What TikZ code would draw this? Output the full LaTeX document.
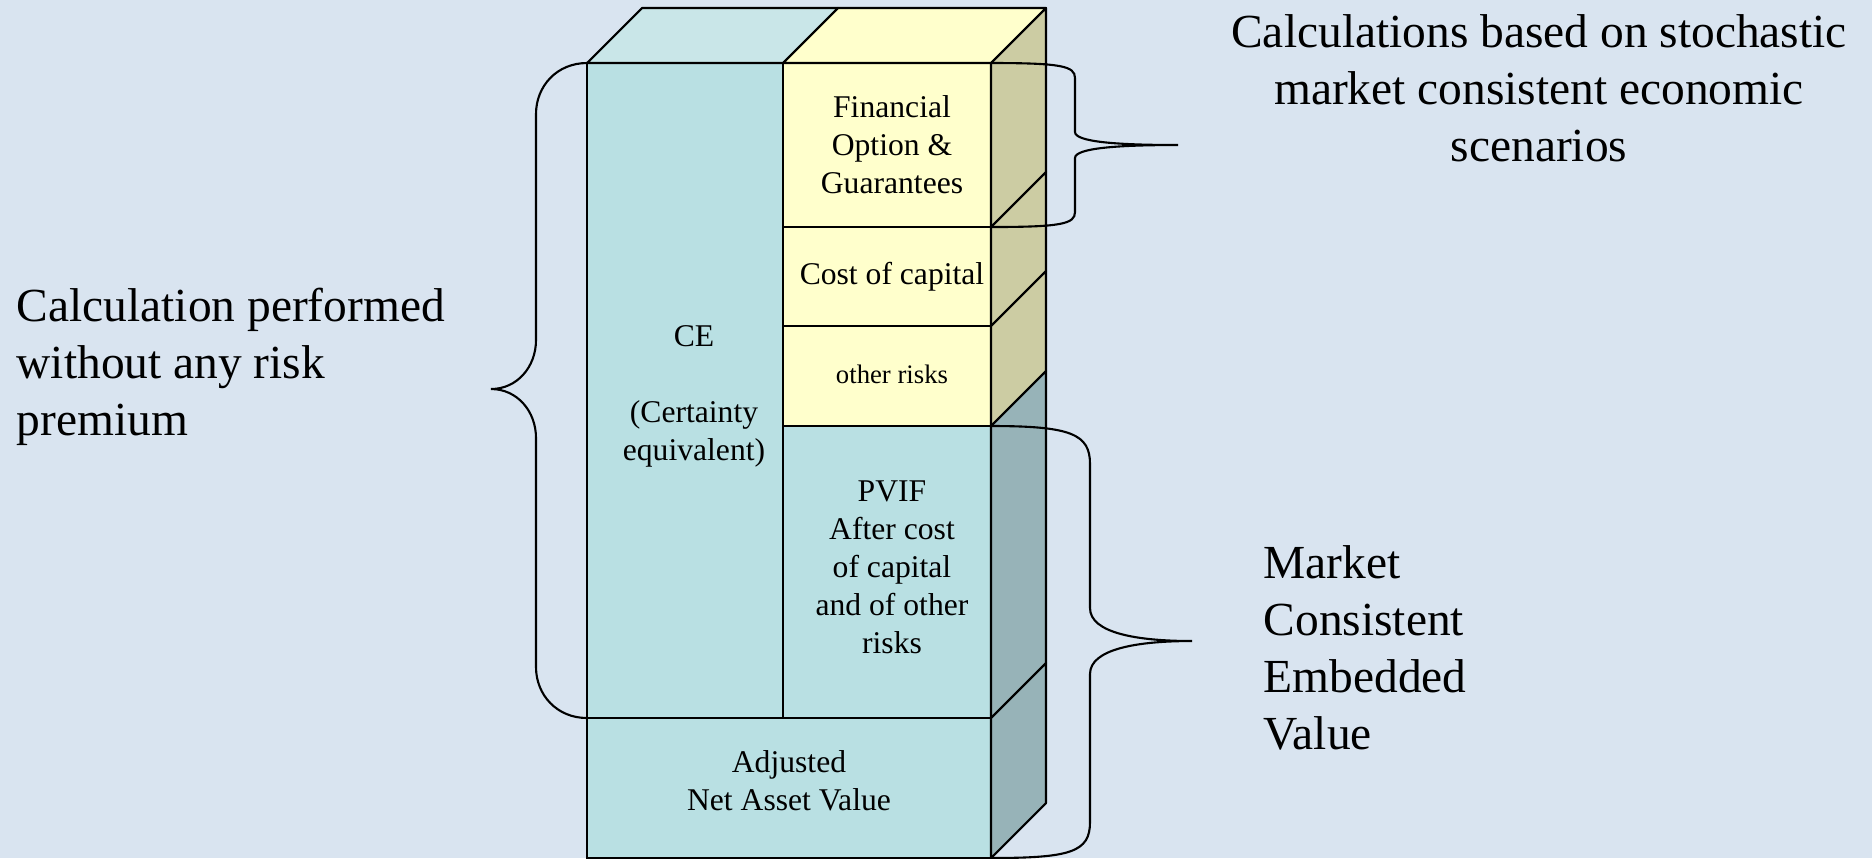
\documentclass[tikz,border=0pt]{standalone}
\usepackage{fontspec}
\setmainfont{Liberation Serif}
\usetikzlibrary{positioning}

\definecolor{bgblue}{RGB}{217,228,240}
\definecolor{ceteal}{RGB}{185,224,227}
\definecolor{topteal}{RGB}{201,230,232}
\definecolor{sideteal}{RGB}{151,179,184}
\definecolor{optyellow}{RGB}{255,255,204}
\definecolor{sideyellow}{RGB}{204,204,163}

\begin{document}
\begin{tikzpicture}[
    x=0.1mm, y=-0.1mm,
    % Front faces
    face/.style={rectangle, draw=black, line width=0.6pt, inner sep=0pt, outer sep=0pt},
    tealface/.style={face, fill=ceteal},
    yellowface/.style={face, fill=optyellow, minimum width=20.8mm},
    facetext/.style={inner sep=0pt, align=center, font=\fontsize{9}{10.8}\selectfont},
    % Top and side faces
    depthface/.style={draw=black, line width=0.6pt, line join=round},
    % Braces and labels
    brace/.style={draw=black, line width=0.6pt},
    note/.style={inner sep=0pt, font=\fontsize{13.5}{16.2}\selectfont}
]
\useasboundingbox (0,0) rectangle (1872,858);
\fill[bgblue] (0,0) rectangle (1872,858);

% Front faces
\node[tealface, minimum width=19.6mm, minimum height=65.5mm, anchor=north west] (ce) at (587,63) {};
\node[yellowface, minimum height=16.4mm, anchor=north west] (fog) at (ce.north east) {};
\node[yellowface, minimum height=9.9mm, below=0pt of fog] (coc) {};
\node[yellowface, minimum height=10mm, below=0pt of coc] (orisk) {};
\node[tealface, minimum width=20.8mm, minimum height=29.2mm, below=0pt of orisk] (pvif) {};
\node[tealface, minimum width=40.4mm, minimum height=14mm, anchor=north west] (anav) at (ce.south west) {};

% Top faces
\filldraw[depthface, fill=topteal] (ce.north west) -- ++(55,-55) -- ([shift={(55,-55)}]ce.north east) -- (ce.north east) -- cycle;
\filldraw[depthface, fill=optyellow] (fog.north west) -- ++(55,-55) -- ([shift={(55,-55)}]fog.north east) -- (fog.north east) -- cycle;

% Side faces
\foreach \blk/\col in {fog/sideyellow, coc/sideyellow, orisk/sideyellow, pvif/sideteal, anav/sideteal}
    \filldraw[depthface, fill=\col] (\blk.north east) -- ++(55,-55) -- ([shift={(55,-55)}]\blk.south east) -- (\blk.south east) -- cycle;

% Face texts
\node[facetext] (ceText) at ([shift={(9,6)}]ce.center) {CE\\[10.8pt](Certainty\\equivalent)};
\node[facetext] (fogText) at ([shift={(5,0)}]fog.center) {Financial\\Option \&\\Guarantees};
\node[facetext] (cocText) at ([shift={(5,0)}]coc.center) {Cost of capital};
\node[facetext, font=\fontsize{7.6}{9}\selectfont] (oriskText) at ([shift={(5,-2)}]orisk.center) {other risks};
\node[facetext] (pvifText) at ([shift={(5,-5)}]pvif.center) {PVIF\\After cost\\of capital\\and of other\\risks};
\node[facetext] (anavText) at ([shift={(0,-7)}]anav.center) {Adjusted\\Net Asset Value};

% Brace tips
\coordinate (noRiskTip) at (491,389);
\coordinate (stochTip) at (1178,145);
\coordinate (mcevTip) at (1192,641);

% Braces
\draw[brace] (ce.north west) .. controls +(-30,0) and +(0,-28) .. (536,114) -- (536,340)
    .. controls +(0,27) and +(26,0) .. (noRiskTip)
    .. controls +(26,0) and +(0,-27) .. (536,438) -- (536,667)
    .. controls +(0,28) and +(-30,0) .. (ce.south west);
\draw[brace] (fog.north east) .. controls +(70,0) and +(0,-12) .. (1075,78) -- (1075,132)
    .. controls +(0,10) and +(-60,0) .. (stochTip)
    .. controls +(-60,0) and +(0,-10) .. (1075,158) -- (1075,212)
    .. controls +(0,12) and +(70,0) .. (fog.south east);
\draw[brace] (pvif.north east) .. controls +(80,0) and +(0,-30) .. (1090,464) -- (1090,608)
    .. controls +(0,25) and +(-55,0) .. (mcevTip)
    .. controls +(-55,0) and +(0,-25) .. (1090,674) -- (1090,822)
    .. controls +(0,30) and +(80,0) .. (anav.south east);

% Labels
\node[note, align=left, anchor=west] (noRisk) at (16,367) {Calculation performed\\without any risk\\premium};
\node[note, align=center] (stoch) at (1539,88) {Calculations based on stochastic\\market consistent economic\\scenarios};
\node[note, align=left, right=7.1mm of mcevTip, yshift=-0.7mm] (mcev) {Market\\Consistent\\Embedded\\Value};

\end{tikzpicture}
\end{document}
